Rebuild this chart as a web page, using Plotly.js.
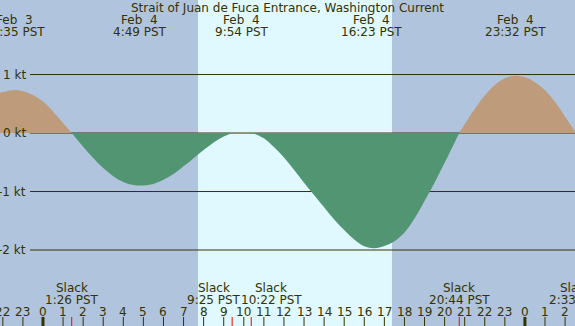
<!DOCTYPE html>
<html>
<head>
<meta charset="utf-8">
<script src="https://cdn.plot.ly/plotly-3.0.1.min.js"></script>
<style>html,body{margin:0;padding:0;background:#b0c4de;}#chart{width:575px;height:326px;}</style>
</head>
<body>
<div id="chart"></div>
<script>
// Hours relative to Feb 4 00:00 PST; speeds in knots
const flood1Hours = [-2.2, -2.0, -1.5, -1.0, -0.5, 0.0, 0.5, 1.0, 1.43];
const flood1Speed = [0.685, 0.70, 0.733, 0.715, 0.65, 0.54, 0.37, 0.17, 0.0];
const ebb1Hours = [1.43, 2.0, 2.5, 3.0, 3.5, 4.0, 4.5, 5.0, 5.5, 6.0, 6.5, 7.0, 7.5, 8.0, 8.5, 9.0, 9.42];
const ebb1Speed = [0.0, -0.235, -0.428, -0.60, -0.737, -0.836, -0.89, -0.897, -0.87, -0.80, -0.70, -0.57, -0.43, -0.29, -0.16, -0.06, 0.0];
const flood2Hours = [9.42, 9.9, 10.37];
const flood2Speed = [0.0, 0.01, 0.0];
const ebb2Hours = [10.37, 10.5, 11.0, 11.5, 12.0, 12.5, 13.0, 13.5, 14.0, 14.5, 15.0, 15.5, 16.0, 16.5, 17.0, 17.5, 18.0, 18.5, 19.0, 19.5, 20.0, 20.5, 20.73];
const ebb2Speed = [0.0, -0.01, -0.09, -0.24, -0.42, -0.63, -0.85, -1.06, -1.27, -1.48, -1.66, -1.82, -1.935, -1.968, -1.93, -1.85, -1.70, -1.46, -1.16, -0.85, -0.51, -0.16, 0.0];
const flood3Hours = [20.73, 21.0, 21.5, 22.0, 22.5, 23.0, 23.5, 24.0, 24.5, 25.0, 25.5, 26.0, 26.55];
const flood3Speed = [0.0, 0.15, 0.41, 0.64, 0.82, 0.937, 0.98, 0.955, 0.87, 0.73, 0.53, 0.28, 0.0];

// Max current events (top labels)
const maxHours = [-1.42, 4.82, 9.9, 16.38, 23.53];
const maxDates = ['Feb  3', 'Feb  4', 'Feb  4', 'Feb  4', 'Feb  4'];
const maxTimes = ['22:35 PST', '4:49 PST', '9:54 PST', '16:23 PST', '23:32 PST'];

// Slack events (bottom labels)
const slackHours = [1.43, 9.42, 10.37, 20.73, 26.55];
const slackTimes = ['1:26 PST', '9:25 PST', '10:22 PST', '20:44 PST', '2:33 PST'];

// Daylight
const sunrise = [7.72];
const sunset = [17.38];

// Hour ticks
const hourTicks = [-2,-1,0,1,2,3,4,5,6,7,8,9,10,11,12,13,14,15,16,17,18,19,20,21,22,23,24,25,26];
const hourLabels = ['22','23','0','1','2','3','4','5','6','7','8','9','10','11','12','13','14','15','16','17','18','19','20','21','22','23','0','1','2'];
const midnightTicks = [0, 24];

// Level lines
const levels = [1, 0, -1, -2];
const levelLabels = ['1 kt', '0 kt', '-1 kt', '-2 kt'];

const W = 575, H = 326;
const X_RANGE = [-2.141, 26.494];
const PX_PER_HOUR = W / (X_RANGE[1] - X_RANGE[0]);
const INK = '#333300';
const FLOOD = '#be9b7a';
const EBB = '#529572';
const NIGHT = '#b0c4de';
const DAY = '#e0f8ff';
const FONT = 'DejaVu Sans, sans-serif';

function area(xs, ys, color) {
  return {x: xs, y: ys, type: 'scatter', mode: 'lines', fill: 'tozeroy',
    fillcolor: color, line: {width: 0, color: color, shape: 'spline', smoothing: 1},
    hoverinfo: 'skip', showlegend: false};
}
const traces = [
  area(flood1Hours, flood1Speed, FLOOD),
  area(ebb1Hours, ebb1Speed, EBB),
  area(flood2Hours, flood2Speed, FLOOD),
  area(ebb2Hours, ebb2Speed, EBB),
  area(flood3Hours, flood3Speed, FLOOD)
];

const shapes = [];
for (let i = 0; i < sunrise.length; i++) {
  shapes.push({type: 'rect', xref: 'x', yref: 'paper', x0: sunrise[i], x1: sunset[i], y0: 0, y1: 1,
    fillcolor: DAY, line: {width: 0}, layer: 'below'});
}
levels.forEach(v => shapes.push({type: 'line', xref: 'paper', yref: 'y', x0: 30 / W, x1: 1, y0: v, y1: v,
  line: {color: INK, width: 1}, layer: 'below'}));
const tickTop = 9 / H;
hourTicks.forEach(h => shapes.push({type: 'line', xref: 'x', yref: 'paper', x0: h, x1: h, y0: 0, y1: tickTop,
  line: {color: INK, width: 1}}));
midnightTicks.forEach(h => shapes.push({type: 'line', xref: 'x', yref: 'paper', x0: h, x1: h, y0: 0, y1: tickTop,
  line: {color: INK, width: 3}}));
slackHours.forEach(h => shapes.push({type: 'line', xref: 'x', yref: 'paper', x0: h, x1: h, y0: 0, y1: tickTop,
  line: {color: '#ff0000', width: 1}}));

const font = {family: FONT, size: 12, color: INK};
const annotations = [];
function py(pix) { return 1 - pix / H; }
// keep an annotation anchored inside the axis range; shift the remainder in pixels
function clampX(h) {
  const lo = X_RANGE[0] + 0.001, hi = X_RANGE[1] - 0.001;
  const c = Math.min(Math.max(h, lo), hi);
  return {x: c, shift: (h - c) * PX_PER_HOUR};
}
maxHours.forEach((h, i) => {
  const p = clampX(h);
  annotations.push({x: p.x, xshift: p.shift, xref: 'x', y: py(20), yref: 'paper', text: maxDates[i].replace(/ /g, '\u00a0'),
    showarrow: false, xanchor: 'center', yanchor: 'middle', font: font});
  annotations.push({x: p.x, xshift: p.shift, xref: 'x', y: py(32), yref: 'paper', text: maxTimes[i],
    showarrow: false, xanchor: 'center', yanchor: 'middle', font: font});
});
const slackShift = [0, -18, 20, 0, 0];
slackHours.forEach((h, i) => {
  const p = clampX(h);
  annotations.push({x: p.x, xref: 'x', y: py(288), yref: 'paper', text: 'Slack', xshift: slackShift[i] + p.shift,
    showarrow: false, xanchor: 'center', yanchor: 'middle', font: font});
  annotations.push({x: p.x, xref: 'x', y: py(300), yref: 'paper', text: slackTimes[i], xshift: slackShift[i] + p.shift,
    showarrow: false, xanchor: 'center', yanchor: 'middle', font: font});
});
hourTicks.forEach((h, i) => annotations.push({x: h, xref: 'x', y: py(312), yref: 'paper', text: hourLabels[i],
  showarrow: false, xanchor: 'center', yanchor: 'middle', font: font}));
levels.forEach((v, i) => annotations.push({x: 28 / W, xref: 'paper', y: v, yref: 'y', text: levelLabels[i],
  showarrow: false, xanchor: 'right', yanchor: 'middle', font: font}));

const layout = {
  width: W, height: H,
  margin: {l: 0, r: 0, t: 0, b: 0, pad: 0},
  paper_bgcolor: NIGHT, plot_bgcolor: NIGHT,
  title: {text: 'Strait of Juan de Fuca Entrance, Washington Current', x: 0.5, xanchor: 'center',
    y: py(8), yanchor: 'middle', font: {family: FONT, size: 12, color: INK}},
  xaxis: {range: X_RANGE, visible: false, fixedrange: true},
  yaxis: {range: [-3.299, 2.274], visible: false, fixedrange: true},
  shapes: shapes,
  annotations: annotations,
  showlegend: false
};
Plotly.newPlot('chart', traces, layout, {staticPlot: true, displayModeBar: false});
</script>
</body>
</html>
